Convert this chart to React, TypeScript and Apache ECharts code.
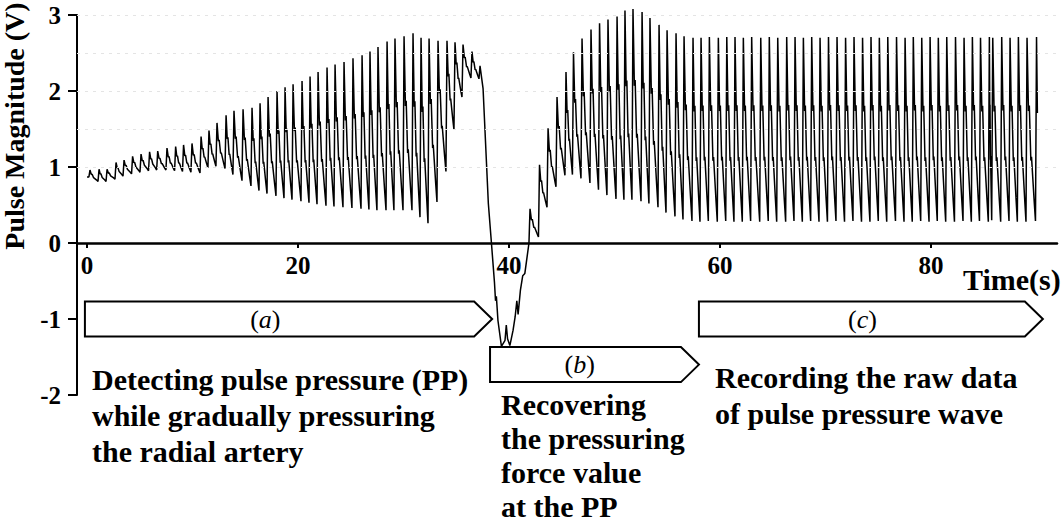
import React, { useEffect, useRef } from "react";
import * as echarts from "echarts";

const SERIF = '"Liberation Serif", "Times New Roman", serif';

// ---------- Phase (a): pulse beats while gradually pressing ----------
const aPeakTime = [
  0.28, 1.14, 1.9, 2.75, 3.51, 4.32, 5.12, 5.93, 6.7, 7.58, 8.4, 9.15, 9.95, 10.81, 11.56, 12.32,
  13.18, 13.93, 14.79, 15.64, 16.4, 17.16, 18.01, 18.77, 19.53, 20.38, 21.14, 21.9, 22.75, 23.51,
  24.36, 25.21, 26.07, 26.82, 27.58, 28.44, 29.19, 30.05, 30.9, 31.66, 32.42, 33.27, 34.12, 34.88,
  35.64, 36.49, 37.25,
];
const aPeak = [
  0.96, 0.97, 0.97, 1.06, 1.09, 1.14, 1.17, 1.2, 1.21, 1.25, 1.27, 1.29, 1.31, 1.4, 1.48, 1.58,
  1.68, 1.74, 1.76, 1.78, 1.84, 1.92, 2.0, 2.05, 2.09, 2.13, 2.19, 2.25, 2.31, 2.35,
  2.38, 2.43, 2.47, 2.52, 2.58, 2.65, 2.69, 2.72, 2.76, 2.7, 2.69, 2.66, 2.66, 2.64,
  2.61, 2.52, 2.33,
];
const aTrough = [
  0.87, 0.81, 0.81, 0.84, 0.88, 0.91, 0.93, 0.95, 0.96, 0.96, 0.95, 0.94, 0.93, 0.92, 0.99, 1.01,
  0.98, 0.9, 0.82, 0.75, 0.69, 0.65, 0.62, 0.59, 0.57, 0.55, 0.53, 0.51, 0.49, 0.48,
  0.47, 0.46, 0.45, 0.44, 0.43, 0.43, 0.43, 0.43, 0.43, 0.34, 0.26, 0.54, 0.94, 1.49,
  1.92, 2.17, 2.16,
];
const waveStartTime = 0.0;

// ---------- Pressure release dip ----------
const dipTime = [
  37.54, 38.04, 38.36, 38.62, 38.72, 38.8, 38.95, 39.28, 39.62, 39.74, 39.86, 40.08, 40.38, 40.58,
  40.74, 40.86, 41.08, 41.3, 41.5,
];
const dipValue = [
  2.03, 0.52, -0.05, -0.52, -0.76, -0.7, -1.02, -1.36, -1.28, -1.08, -1.26, -1.35, -1.15, -0.97,
  -0.76, -0.94, -0.62, -0.43, -0.4,
];

// ---------- Phases (b) + (c): recovery and recording ----------
const bPeakTime = [
  41.99, 42.89, 43.7, 44.55, 45.4, 46.11, 46.92, 47.77, 48.58, 49.38, 50.24, 50.99, 51.75, 52.61,
  53.36, 54.22, 54.98, 55.83, 56.59, 57.44,
  58.2, 58.99, 59.84, 60.64, 61.42, 62.21, 63.0, 63.86, 64.67, 65.47, 66.32, 67.11, 67.9, 68.69,
  69.48, 70.28, 71.09, 71.9, 72.7, 73.51, 74.31, 75.1, 75.9, 76.73, 77.54, 78.32, 79.12, 79.91,
  80.69, 81.49, 82.32, 83.13, 83.92, 84.69, 85.53, 85.85, 86.7, 87.49, 88.28, 89.1, 90.0,
];
const bPeak = [
  0.45, 1.03, 1.51, 1.92, 2.25, 2.51, 2.69, 2.81, 2.89, 2.94, 2.98, 3.06, 3.08, 3.04,
  2.96, 2.87, 2.8, 2.76, 2.72, 2.7,
  2.7, 2.71, 2.7, 2.71, 2.71, 2.7, 2.71, 2.7, 2.71, 2.7, 2.71, 2.71, 2.7, 2.71,
  2.7, 2.71, 2.71, 2.7, 2.71, 2.7, 2.71, 2.7, 2.71, 2.71, 2.7, 2.71, 2.7, 2.71,
  2.7, 2.71, 2.71, 2.7, 2.71, 2.7, 2.71, 2.7, 2.71, 2.7, 2.71, 2.7, 2.71,
];
const bTrough = [
  0.0, 0.08, 0.47, 0.74, 0.89, 0.9, 0.85, 0.79, 0.7, 0.63, 0.58, 0.57, 0.57, 0.55,
  0.52, 0.47, 0.4, 0.35, 0.31, 0.29,
  0.28, 0.29, 0.28, 0.29, 0.28, 0.28, 0.29, 0.28, 0.29, 0.28, 0.28, 0.29, 0.28, 0.29,
  0.28, 0.28, 0.29, 0.28, 0.29, 0.28, 0.28, 0.29, 0.28, 0.29, 0.28, 0.28, 0.29, 0.28,
  0.29, 0.28, 0.28, 0.29, 0.28, 0.29, 0.28, 0.3, 0.28, 0.29, 0.28, 0.28, 0.29,
];
const finalValue = 1.71;

// beat shape after the systolic peak (time as share of peak→next onset, level as share of amplitude)
const beatShapeTime = [0.17, 0.27, 0.45, 0.53, 0.83];
const beatShapeLevel = [0.6, 0.63, 0.33, 0.35, 0.12];
const onsetLead = 0.1;

const xTickValues = [0, 20, 40, 60, 80];
const gridLevels = [1, 1.5, 2, 2.5, 3];

const phaseLabels = ["a", "b", "c"];
const phaseStart = [-0.2, 38.2, 58.0];
const phaseTip = [38.4, 58.0, 90.6];
const phaseLevel = [-1.0, -1.6, -1.0];
const phaseLabelTime = [16.9, 46.7, 73.5];

const notes = [
  { lines: ["Detecting pulse pressure (PP)", "while gradually pressuring", "the radial artery"], x: 92, y: 379, gap: 36 },
  { lines: ["Recovering", "the pressuring", "force value", "at the PP"], x: 501, y: 404, gap: 34 },
  { lines: ["Recording the raw data", "of pulse pressure wave"], x: 715, y: 377, gap: 36 },
];

function beatsToPoints(peakT: number[], peak: number[], trough: number[]) {
  const pts: number[][] = [];
  for (let i = 0; i < peakT.length; i++) {
    pts.push([peakT[i] - onsetLead, trough[i]]);
    pts.push([peakT[i], peak[i]]);
    if (i + 1 < peakT.length) {
      const next = peakT[i + 1] - onsetLead;
      const b = trough[i + 1];
      const q = next - peakT[i];
      const amp = peak[i] - b;
      for (let k = 0; k < beatShapeTime.length; k++) {
        pts.push([peakT[i] + beatShapeTime[k] * q, b + beatShapeLevel[k] * amp]);
      }
    }
  }
  return pts;
}

function buildWave() {
  const pts: number[][] = [[waveStartTime, aTrough[0]]];
  pts.push(...beatsToPoints(aPeakTime, aPeak, aTrough));
  for (let i = 0; i < dipTime.length; i++) pts.push([dipTime[i], dipValue[i]]);
  pts.push(...beatsToPoints(bPeakTime, bPeak, bTrough));
  pts.push([bPeakTime[bPeakTime.length - 1] + 0.08, finalValue]);
  return pts;
}

export default function App() {
  const ref = useRef<HTMLDivElement>(null);
  useEffect(() => {
    const chart = echarts.init(ref.current!, null, { renderer: "svg" });
    const axisFont = { fontFamily: SERIF, fontWeight: "bold" as const, fontSize: 25, color: "#000" };
    const gridTop = 15;
    const gridBottom = 130;
    const plotH = 525 - gridTop - gridBottom;
    const yMin = -2;
    const yMax = 3;
    // place the time axis on the zero line
    const zeroOffset = -(plotH * (0 - yMin)) / (yMax - yMin);
    chart.setOption({
      animation: false,
      grid: { left: 77, right: 6, top: gridTop, bottom: gridBottom, containLabel: false },
      xAxis: {
        type: "value",
        min: -0.95,
        max: 91.94,
        position: "bottom",
        offset: zeroOffset,
        axisLine: { onZero: false, lineStyle: { color: "#000", width: 2.5 } },
        axisTick: { show: true, customValues: xTickValues, length: 5, lineStyle: { color: "#000", width: 2 } },
        axisLabel: { customValues: xTickValues, margin: 10, ...axisFont },
        splitLine: { show: false },
      },
      yAxis: {
        type: "value",
        min: yMin,
        max: yMax,
        interval: 1,
        axisLine: { show: true, onZero: false, lineStyle: { color: "#000", width: 2 } },
        axisTick: { show: true, length: 9, lineStyle: { color: "#000", width: 2 } },
        axisLabel: { margin: 16, ...axisFont },
        splitLine: { show: false },
      },
      series: [
        {
          type: "line",
          data: buildWave(),
          symbol: "none",
          clip: false,
          lineStyle: { color: "#000", width: 1.5 },
          z: 2,
        },
        {
          type: "line",
          data: [],
          z: 5,
          markLine: {
            silent: true,
            symbol: "none",
            label: { show: false },
            lineStyle: { color: "#e4e4e4", type: [3, 5], width: 1 },
            data: gridLevels.map((v) => ({ yAxis: v })),
          },
        },
      ],
    });

    const px = (t: number, v: number) =>
      chart.convertToPixel({ xAxisIndex: 0, yAxisIndex: 0 }, [t, v]) as number[];
    const half = 17.5;
    const tipLen = 18;
    const graphics: any[] = [];
    phaseLabels.forEach((lab, i) => {
      const [x0, yc] = px(phaseStart[i], phaseLevel[i]);
      const [xt] = px(phaseTip[i], phaseLevel[i]);
      const xb = xt - tipLen;
      graphics.push({
        type: "polygon",
        z: 10,
        shape: {
          points: [
            [x0, yc - half],
            [xb, yc - half],
            [xt, yc],
            [xb, yc + half],
            [x0, yc + half],
          ],
        },
        style: { fill: "#fff", stroke: "#000", lineWidth: 2 },
      });
      const [xl] = px(phaseLabelTime[i], phaseLevel[i]);
      graphics.push({
        type: "text",
        z: 11,
        x: xl,
        y: yc,
        style: {
          text: `{p|(}{i|${lab}}{p|)}`,
          align: "center",
          verticalAlign: "middle",
          rich: {
            p: { fontFamily: SERIF, fontSize: 26, fill: "#000" },
            i: { fontFamily: SERIF, fontSize: 26, fontStyle: "italic", fill: "#000" },
          },
        },
      });
    });
    notes.forEach((n) => {
      n.lines.forEach((line, j) => {
        graphics.push({
          type: "text",
          x: n.x,
          y: n.y + j * n.gap,
          style: {
            text: line,
            fontFamily: SERIF,
            fontWeight: "bold",
            fontSize: 30,
            fill: "#000",
            align: "left",
            verticalAlign: "middle",
          },
        });
      });
    });
    graphics.push({
      type: "text",
      x: 963,
      y: 279,
      style: { text: "Time(s)", fontFamily: SERIF, fontWeight: "bold", fontSize: 30, fill: "#000", align: "left", verticalAlign: "middle" },
    });
    graphics.push({
      type: "text",
      x: 14,
      y: 126,
      rotation: Math.PI / 2,
      style: {
        text: "Pulse Magnitude (V)",
        fontFamily: SERIF,
        fontWeight: "bold",
        fontSize: 28,
        fill: "#000",
        align: "center",
        verticalAlign: "middle",
      },
    });
    chart.setOption({ graphic: graphics });
    return () => chart.dispose();
  }, []);
  return (
    <div
      ref={ref}
      style={{ position: "fixed", left: 0, top: 0, width: 1063, height: 525, background: "#fff" }}
    />
  );
}
